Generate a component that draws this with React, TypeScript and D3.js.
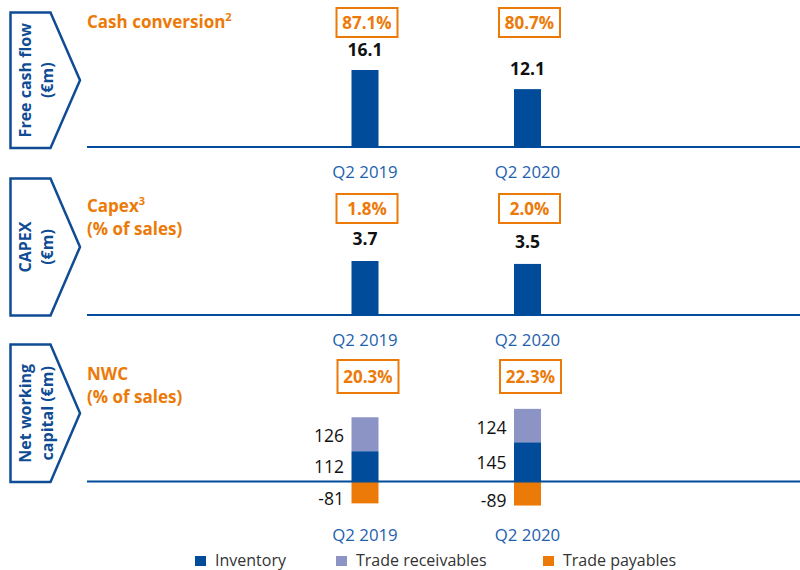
import React from "react";
import * as d3 from "d3";

const periods = ["Q2 2019", "Q2 2020"];
const freeCashFlow = [16.1, 12.1];
const cashConversion = [87.1, 80.7];
const capex = [3.7, 3.5];
const capexPct = [1.8, 2.0];
const inventory = [112, 145];
const receivables = [126, 124];
const payables = [-81, -89];
const nwcPct = [20.3, 22.3];
const legendItems = ["Inventory", "Trade receivables", "Trade payables"];

const BLUE = "#004B9A";
const LAV = "#8C93C5";
const ORANGE = "#EC7A08";
const DARK = "#0F4C94";
const QBLUE = "#1E5FAE";
const FONT = "'Open Sans', 'Noto Sans', sans-serif";

const W = 800;
const H = 570;
const BAR_W = 27;

const x = d3.scalePoint<string>().domain(periods).range([365, 527.5]);

function Chevron({ top, bottom, lines }: { top: number; bottom: number; lines: string[] }) {
  const mid = (top + bottom) / 2;
  const p = d3.path();
  p.moveTo(10.5, top);
  p.lineTo(50.5, top);
  p.lineTo(80, mid);
  p.lineTo(50.5, bottom);
  p.lineTo(10.5, bottom);
  p.closePath();
  const xs = lines.length === 2 ? [25, 47] : [36];
  return (
    <g>
      <path d={p.toString()} fill="white" stroke={DARK} strokeWidth={2.5} />
      {lines.map((l, i) => (
        <text
          key={i}
          transform={`translate(${xs[i] + 6},${mid}) rotate(-90)`}
          textAnchor="middle"
          fontFamily={FONT}
          fontWeight={700}
          fontSize={16}
          fill={DARK}
        >
          {l}
        </text>
      ))}
    </g>
  );
}

function PctBox({ cx, top, h, text }: { cx: number; top: number; h: number; text: string }) {
  const w = 61;
  return (
    <g>
      <rect x={cx - w / 2} y={top} width={w} height={h} fill="white" stroke={ORANGE} strokeWidth={2} />
      <text x={cx} y={top + h / 2 + 6} textAnchor="middle" fontFamily={FONT} fontWeight={700} fontSize={17} fill={ORANGE}>
        {text}
      </text>
    </g>
  );
}

function QLabels({ y }: { y: number }) {
  return (
    <g>
      {periods.map((p) => (
        <text key={p} x={x(p)} y={y} textAnchor="middle" fontFamily={FONT} fontSize={16.8} fill={QBLUE}>
          {p}
        </text>
      ))}
    </g>
  );
}

export default function App() {
  // Panel 1: Free cash flow
  const base1 = 147;
  const y1 = d3.scaleLinear().domain([0, 16.1]).range([base1, 70]);
  // Panel 2: CAPEX
  const base2 = 315;
  const y2 = d3.scaleLinear().domain([0, 3.7]).range([base2, 261]);
  // Panel 3: NWC
  const base3 = 481.5;
  const y3 = d3.scaleLinear().domain([0, 100]).range([base3, base3 - 27]);

  const legendX = [195, 336, 543];

  return (
    <svg
      width={W}
      height={H}
      viewBox={`0 0 ${W} ${H}`}
      style={{ position: "absolute", left: 0, top: 0, background: "white" }}
    >
      <rect width={W} height={H} fill="white" />

      {/* Panel 1 */}
      <Chevron top={12.5} bottom={148} lines={["Free cash flow", "(€m)"]} />
      <text x={87} y={28} fontFamily={FONT} fontWeight={700} fontSize={17} fill={ORANGE}>
        Cash conversion<tspan dy={-7} fontSize={11}>2</tspan>
      </text>
      {periods.map((p, i) => (
        <g key={p}>
          <rect x={x(p)! - BAR_W / 2} y={y1(freeCashFlow[i])} width={BAR_W} height={base1 - y1(freeCashFlow[i])} fill={BLUE} />
          <text x={x(p)} y={y1(freeCashFlow[i]) - 14.5} textAnchor="middle" fontFamily={FONT} fontWeight={700} fontSize={17.5} fill="#111">
            {freeCashFlow[i].toFixed(1)}
          </text>
          <PctBox cx={x(p)! + 2} top={8} h={29} text={`${cashConversion[i].toFixed(1)}%`} />
        </g>
      ))}
      <line x1={87} x2={800} y1={base1} y2={base1} stroke={BLUE} strokeWidth={2} />
      <QLabels y={178} />

      {/* Panel 2 */}
      <Chevron top={178.5} bottom={315.5} lines={["CAPEX", "(€m)"]} />
      <text x={87} y={212} fontFamily={FONT} fontWeight={700} fontSize={17} fill={ORANGE}>
        Capex<tspan dy={-7} fontSize={11}>3</tspan>
      </text>
      <text x={87} y={235} fontFamily={FONT} fontWeight={700} fontSize={17} fill={ORANGE}>
        (% of sales)
      </text>
      {periods.map((p, i) => (
        <g key={p}>
          <rect x={x(p)! - BAR_W / 2} y={y2(capex[i])} width={BAR_W} height={base2 - y2(capex[i])} fill={BLUE} />
          <text x={x(p)} y={y2(capex[i]) - 16} textAnchor="middle" fontFamily={FONT} fontWeight={700} fontSize={17.5} fill="#111">
            {capex[i].toFixed(1)}
          </text>
          <PctBox cx={x(p)! + 2} top={194} h={29} text={`${capexPct[i].toFixed(1)}%`} />
        </g>
      ))}
      <line x1={87} x2={800} y1={base2} y2={base2} stroke={BLUE} strokeWidth={2} />
      <QLabels y={346} />

      {/* Panel 3 */}
      <Chevron top={344.5} bottom={482} lines={["Net working", "capital (€m)"]} />
      <text x={87} y={380} fontFamily={FONT} fontWeight={700} fontSize={17} fill={ORANGE}>
        NWC
      </text>
      <text x={87} y={403} fontFamily={FONT} fontWeight={700} fontSize={17} fill={ORANGE}>
        (% of sales)
      </text>
      {periods.map((p, i) => {
        const cx = x(p)!;
        const invTop = y3(inventory[i]);
        const recTop = y3(inventory[i] + receivables[i]);
        const payBot = y3(payables[i]);
        return (
          <g key={p}>
            <rect x={cx - BAR_W / 2} y={recTop} width={BAR_W} height={invTop - recTop} fill={LAV} />
            <rect x={cx - BAR_W / 2} y={invTop} width={BAR_W} height={base3 - invTop} fill={BLUE} />
            <rect x={cx - BAR_W / 2} y={base3} width={BAR_W} height={payBot - base3} fill={ORANGE} />
            <text x={cx - 21} y={(recTop + invTop) / 2 + 8} textAnchor="end" fontFamily={FONT} fontSize={17.5} fill="#111">
              {receivables[i]}
            </text>
            <text x={cx - 21} y={(invTop + base3) / 2 + 7} textAnchor="end" fontFamily={FONT} fontSize={17.5} fill="#111">
              {inventory[i]}
            </text>
            <text x={cx - 21} y={(base3 + payBot) / 2 + 13} textAnchor="end" fontFamily={FONT} fontSize={17.5} fill="#111">
              {payables[i]}
            </text>
            <PctBox cx={cx + 3} top={360} h={33} text={`${nwcPct[i].toFixed(1)}%`} />
          </g>
        );
      })}
      <line x1={87} x2={800} y1={base3} y2={base3} stroke={BLUE} strokeWidth={2} />
      <QLabels y={541} />

      {/* Legend */}
      {legendItems.map((l, i) => (
        <g key={l}>
          <rect x={legendX[i]} y={556} width={11} height={10} fill={[BLUE, LAV, ORANGE][i]} />
          <text x={legendX[i] + 20} y={566} fontFamily={FONT} fontSize={16} fill="#333">
            {l}
          </text>
        </g>
      ))}
    </svg>
  );
}
